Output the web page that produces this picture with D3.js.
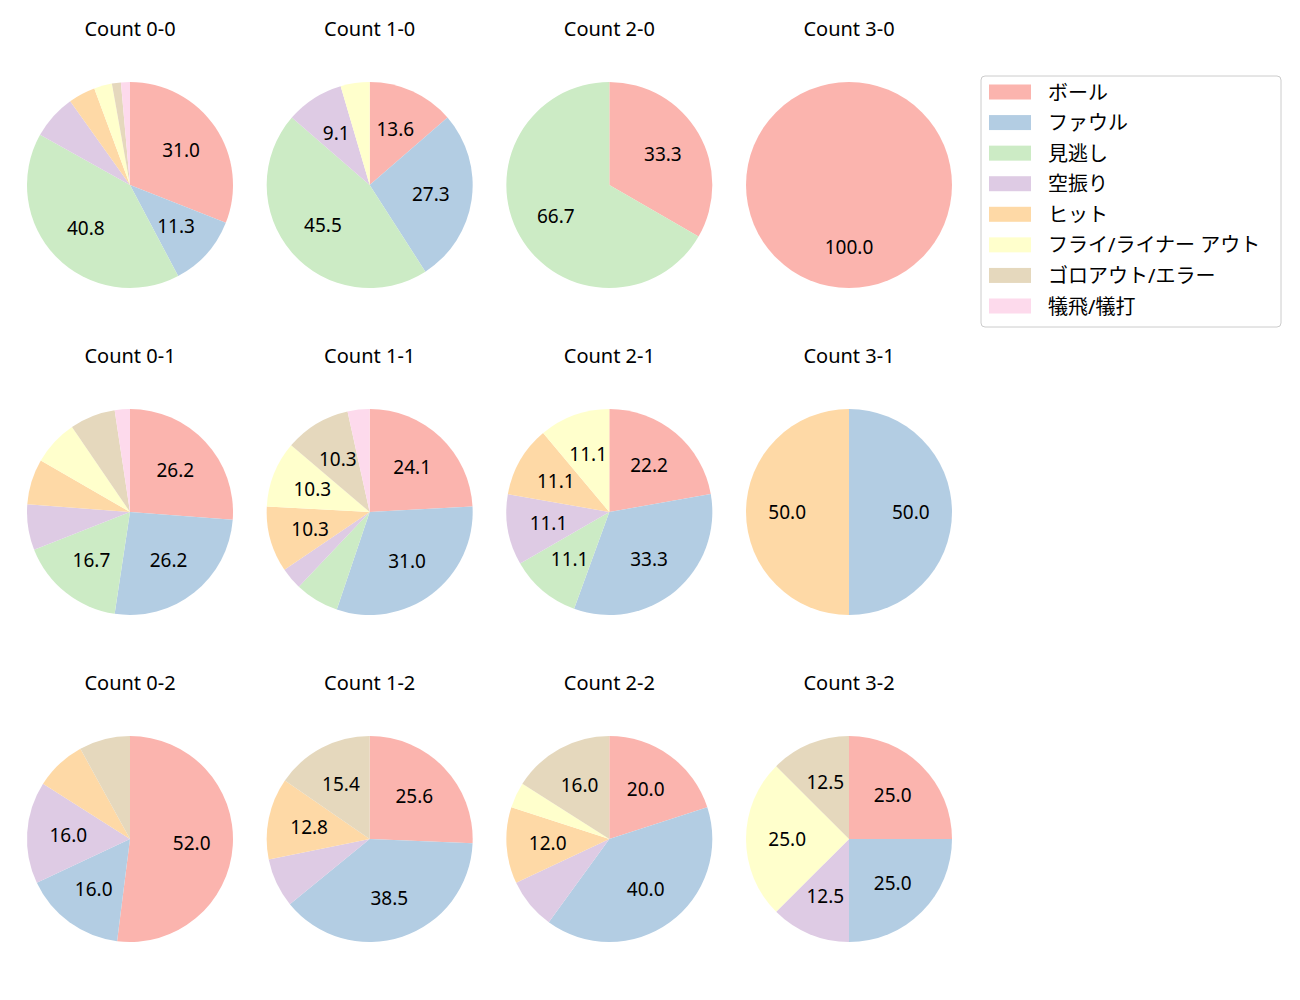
<!DOCTYPE html>
<html>
<head>
<meta charset="utf-8">
<script src="https://cdn.jsdelivr.net/npm/d3@7"></script>
<style>
  body { margin: 0; background: #fff; }
  text { font-family: "Noto Sans", "Noto Sans CJK JP", sans-serif; fill: #000; }
</style>
</head>
<body>
<div id="chart"></div>
<script>
const categories = ["ボール", "ファウル", "見逃し", "空振り", "ヒット", "フライ/ライナー アウト", "ゴロアウト/エラー", "犠飛/犠打"];
const colors = ["#fbb4ae", "#b3cde3", "#ccebc5", "#decbe4", "#fed9a6", "#ffffcc", "#e5d8bd", "#fddaec"];

// pitch counts (ball-strike), one array of values per category order above
const counts = ["0-0", "1-0", "2-0", "3-0", "0-1", "1-1", "2-1", "3-1", "0-2", "1-2", "2-2", "3-2"];
const count00 = [22, 8, 29, 5, 3, 2, 1, 1];
const count10 = [3, 6, 10, 2, 0, 1, 0, 0];
const count20 = [1, 0, 2, 0, 0, 0, 0, 0];
const count30 = [1, 0, 0, 0, 0, 0, 0, 0];
const count01 = [11, 11, 7, 3, 3, 3, 3, 1];
const count11 = [7, 9, 2, 1, 3, 3, 3, 1];
const count21 = [2, 3, 1, 1, 1, 1, 0, 0];
const count31 = [0, 1, 0, 0, 1, 0, 0, 0];
const count02 = [13, 4, 0, 4, 2, 0, 2, 0];
const count12 = [10, 15, 0, 3, 5, 0, 6, 0];
const count22 = [5, 10, 0, 2, 3, 1, 4, 0];
const count32 = [2, 2, 0, 1, 0, 2, 1, 0];
const seriesValues = [count00, count10, count20, count30, count01, count11, count21, count31, count02, count12, count22, count32];

const width = 1300, height = 1000;
const radius = 103;
const minLabelPct = 8.5;

const svg = d3.select("#chart").append("svg")
  .attr("width", width)
  .attr("height", height);

const colX = d3.scaleLinear().domain([0, 3]).range([130, 849]);
const rowY = d3.scaleLinear().domain([0, 2]).range([185, 839]);
const color = d3.scaleOrdinal().domain(categories).range(colors);

const pie = d3.pie().sort(null).value(d => d.value);
const arc = d3.arc().innerRadius(0).outerRadius(radius);
const labelArc = d3.arc().innerRadius(radius * 0.6).outerRadius(radius * 0.6);

counts.forEach((name, i) => {
  const values = seriesValues[i];
  const total = d3.sum(values);
  const data = categories.map((c, k) => ({ cat: c, value: values[k] }));
  const cx = colX(i % 4), cy = rowY(Math.floor(i / 4));

  const g = svg.append("g").attr("transform", `translate(${cx},${cy})`);

  g.append("text")
    .attr("x", 0)
    .attr("y", -radius - 54)
    .attr("text-anchor", "middle")
    .attr("dominant-baseline", "central")
    .style("font-size", "20px")
    .text(`Count ${name}`);

  const arcs = pie(data).filter(d => d.data.value > 0);

  g.selectAll("path")
    .data(arcs)
    .join("path")
      .attr("d", arc)
      .attr("fill", d => color(d.data.cat));

  g.selectAll("text.pct")
    .data(arcs.filter(d => d.data.value / total * 100 >= minLabelPct))
    .join("text")
      .attr("class", "pct")
      .attr("transform", d => `translate(${labelArc.centroid(d)})`)
      .attr("text-anchor", "middle")
      .attr("dominant-baseline", "central")
      .style("font-size", "19px")
      .text(d => (d.data.value / total * 100).toFixed(1));
});

// legend
const legend = svg.append("g").attr("transform", "translate(981,76)");
legend.append("rect")
  .attr("width", 300)
  .attr("height", 251)
  .attr("rx", 4)
  .attr("fill", "#fff")
  .attr("stroke", "#cccccc");

const legendY = d3.scaleLinear().domain([0, 7]).range([16, 230]);
categories.forEach((c, k) => {
  legend.append("rect")
    .attr("x", 8)
    .attr("y", legendY(k) - 7.5)
    .attr("width", 42)
    .attr("height", 15)
    .attr("fill", color(c));
  legend.append("text")
    .attr("x", 67)
    .attr("y", legendY(k))
    .attr("dominant-baseline", "central")
    .style("font-size", "20px")
    .text(c);
});
</script>
</body>
</html>
